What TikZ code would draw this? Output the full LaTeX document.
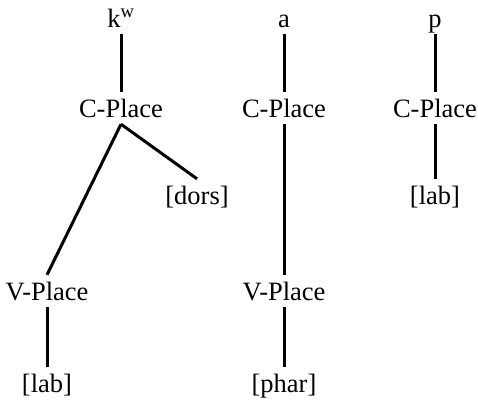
\documentclass[tikz,border=0pt]{standalone}
\usepackage{fontspec}
\setmainfont{Liberation Serif}
\begin{document}
\begin{tikzpicture}[x=1pt,y=-1pt,
  lbl/.style={inner sep=0pt,text height=25pt,text depth=7pt,anchor=base,font=\fontsize{26.5}{31}\selectfont},
  edge/.style={line width=3pt}]
\useasboundingbox (0,0) rectangle (478,400);
% column 1
\node[lbl] (k) at (121,27) {k\textsuperscript{w}};
\node[lbl] (cp1) at (121,117) {C-Place};
\node[lbl] (dors) at (197,204) {[dors]};
\node[lbl] (vp1) at (47,300) {V-Place};
\node[lbl] (lab1) at (47,392) {[lab]};
% column 2
\node[lbl] (a) at (284,27) {a};
\node[lbl] (cp2) at (284,117) {C-Place};
\node[lbl] (vp2) at (284,300) {V-Place};
\node[lbl] (phar) at (284,392) {[phar]};
% column 3
\node[lbl] (p) at (435,27) {p};
\node[lbl] (cp3) at (435,117) {C-Place};
\node[lbl] (lab3) at (435,204) {[lab]};
% connectors
\draw[edge] (k.south) -- (cp1.north);
\draw[edge] (cp1.south) -- (dors.north);
\draw[edge] (cp1.south) -- (vp1.north);
\draw[edge] (vp1.south) -- (lab1.north);
\draw[edge] (a.south) -- (cp2.north);
\draw[edge] (cp2.south) -- (vp2.north);
\draw[edge] (vp2.south) -- (phar.north);
\draw[edge] (p.south) -- (cp3.north);
\draw[edge] (cp3.south) -- (lab3.north);
\end{tikzpicture}
\end{document}
